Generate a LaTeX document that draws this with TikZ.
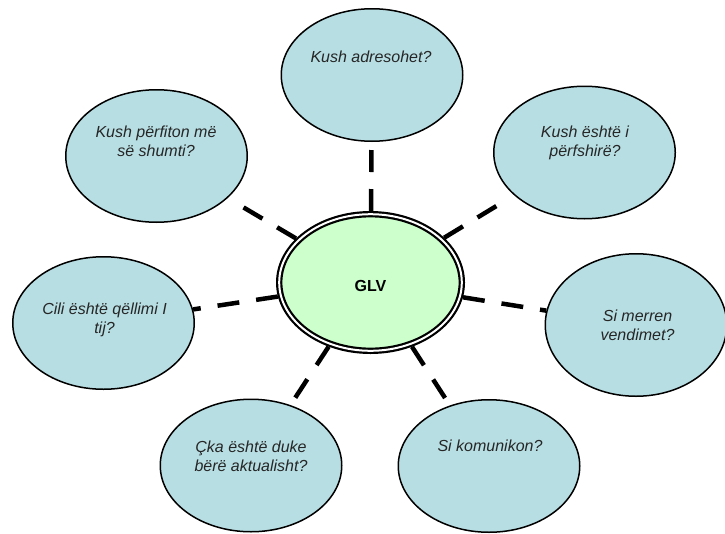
\documentclass[tikz,border=0pt]{standalone}
\usepackage{fontspec}
\setmainfont{Liberation Sans}
\usetikzlibrary{shapes.geometric}
\definecolor{bubblefill}{HTML}{B7DEE3}
\definecolor{glvfill}{HTML}{CCFFCC}
\begin{document}
\begin{tikzpicture}[x=1pt,y=-1pt,
  bubble/.style={ellipse,draw=black,line width=1.5pt,fill=bubblefill,
    minimum width=181.5pt,minimum height=132.5pt,inner sep=0pt},
  qtext/.style={align=center,font=\fontsize{16}{19}\selectfont\itshape,
    text=black!85,inner sep=0pt},
  hub/.style={ellipse,draw=black,line width=2.2pt,double=white,
    double distance=2pt,fill=glvfill,minimum width=182.6pt,
    minimum height=136.6pt,inner sep=0pt,outer sep=3.2pt},
  hubtext/.style={font=\fontsize{16}{19}\selectfont\bfseries,inner sep=0pt},
  link/.style={line width=4.5pt,dash pattern=on 22pt off 17pt}
]
\useasboundingbox (0,0) rectangle (725,533);

\node[hub] (glv) at (370.5,282.5) {};
\node[hubtext] (glvq) at (370.5,286) {GLV};

\node[bubble] (top) at (372,75) {};
\node[bubble] (tl) at (156.5,156) {};
\node[bubble] (tr) at (584.5,152.5) {};
\node[bubble,minimum height=142.5pt] (rt) at (636,325) {};
\node[bubble] (lf) at (103.5,323) {};
\node[bubble] (bl) at (251,465.5) {};
\node[bubble] (br) at (489,466) {};

\node[qtext] (topq) at (371,57) {Kush adresohet?};
\node[qtext] (tlq) at (156,141) {Kush përfiton më\\së shumti?};
\node[qtext] (trq) at (585,142.5) {Kush është i\\përfshirë?};
\node[qtext] (rtq) at (637.5,325.5) {Si merren\\vendimet?};
\node[qtext] (lfq) at (104.5,320) {Cili është qëllimi I\\tij?};
\node[qtext] (blq) at (251,456.5) {Çka është duke\\bërë aktualisht?};
\node[qtext] (brq) at (490,446) {Si komunikon?};

\draw[link] (glv) -- (top);
\draw[link,shorten >=4pt] (glv) -- (tl);
\draw[link,shorten >=7pt] (glv) -- (tr);
\draw[link] (glv) -- (rt);
\draw[link] (glv) -- (lf);
\draw[link] (glv) -- (bl);
\draw[link] (glv) -- (br);
\end{tikzpicture}
\end{document}
